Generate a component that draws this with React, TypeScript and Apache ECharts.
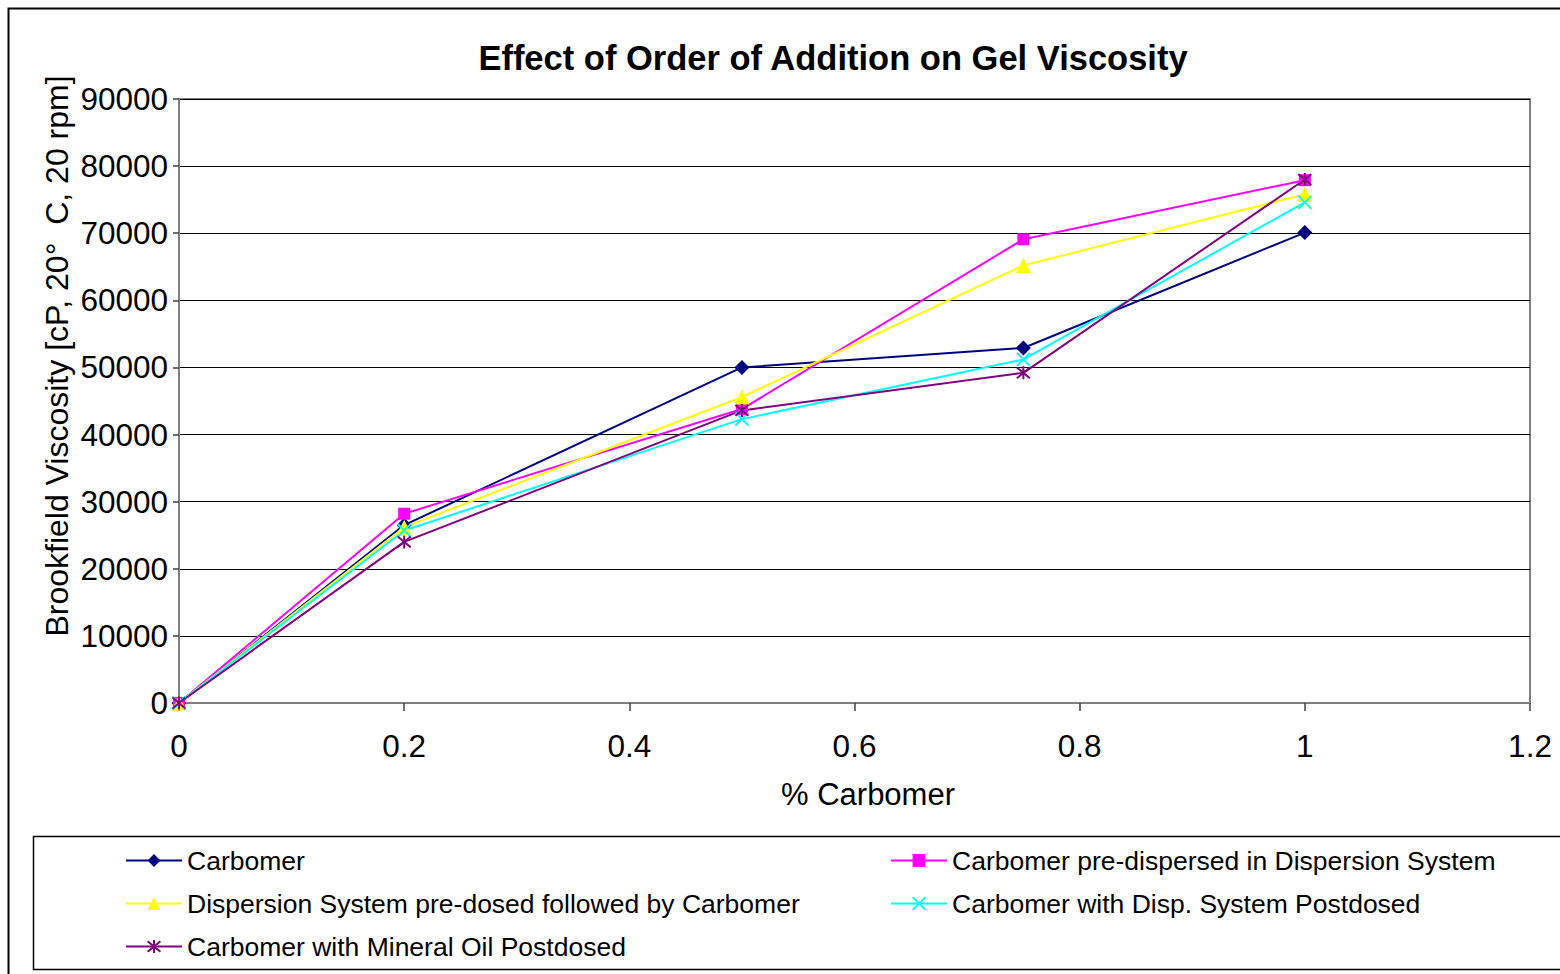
import React, { useEffect, useRef } from "react";
import * as echarts from "echarts";

const xValues = [0, 0.2, 0.5, 0.75, 1];
const carbomer = [0, 26500, 50000, 52900, 70100];
const preDispersed = [0, 28200, 43800, 69100, 77900];
const preDosed = [0, 26200, 45600, 65200, 75800];
const dispPostdosed = [0, 25700, 42300, 51200, 74600];
const mineralOil = [0, 24000, 43600, 49200, 78000];

const seriesNames = [
  "Carbomer",
  "Carbomer pre-dispersed in Dispersion System",
  "Dispersion System pre-dosed followed by Carbomer",
  "Carbomer with Disp. System Postdosed",
  "Carbomer with Mineral Oil Postdosed",
];

const FONT = "Liberation Sans, Arial, sans-serif";
const X_PATH = "path://M0,0L10,10M10,0L0,10";
const STAR_PATH = "path://M0,0L10,10M10,0L0,10M5,-1L5,11";

export default function App() {
  const ref = useRef<HTMLDivElement>(null);
  useEffect(() => {
    if (!ref.current) return;
    const chart = echarts.init(ref.current, undefined, { renderer: "svg" });
    const mk = (vals: number[]) => xValues.map((x, i) => [x, vals[i]]);
    const series: any[] = [
      { name: seriesNames[0], data: mk(carbomer), color: "#000080", symbol: "diamond", symbolSize: 15 },
      { name: seriesNames[1], data: mk(preDispersed), color: "#FF00FF", symbol: "rect", symbolSize: 12 },
      { name: seriesNames[2], data: mk(preDosed), color: "#FFFF00", symbol: "triangle", symbolSize: 15 },
      { name: seriesNames[3], data: mk(dispPostdosed), color: "#00FFFF", symbol: X_PATH, symbolSize: 13, stroke: true },
      { name: seriesNames[4], data: mk(mineralOil), color: "#800080", symbol: STAR_PATH, symbolSize: 13, stroke: true },
    ].map((s) => ({
      type: "line",
      name: s.name,
      data: s.data,
      symbol: s.symbol,
      symbolSize: s.symbolSize,
      showAllSymbol: true,
      lineStyle: { color: s.color, width: 2 },
      itemStyle: s.stroke
        ? { color: s.color, borderColor: s.color, borderWidth: 2 }
        : { color: s.color, borderColor: s.color, borderWidth: 0 },
      emphasis: { disabled: true },
    }));

    const legendCommon = {
      orient: "vertical",
      itemWidth: 56,
      itemHeight: 16,
      itemGap: 14,
      textStyle: { fontFamily: FONT, fontSize: 26.5, color: "#000", lineHeight: 29 },
      selectedMode: false,
      padding: 0,
    };

    chart.setOption({
      animation: false,
      backgroundColor: "#fff",
      title: {
        text: "Effect of Order of Addition on Gel Viscosity",
        left: 828,
        textAlign: "center",
        top: 35,
        textStyle: { fontFamily: FONT, fontSize: 34.5, fontWeight: "bold", color: "#000" },
      },
      grid: { left: 179, right: 30, top: 99, bottom: 271, show: true, borderColor: "#808080", borderWidth: 2, backgroundColor: "#fff" },
      xAxis: {
        type: "value",
        min: 0,
        max: 1.2,
        interval: 0.2,
        axisLine: { show: true, onZero: false, lineStyle: { color: "#808080", width: 2 } },
        axisTick: { show: true, inside: false, length: 8, lineStyle: { color: "#404040", width: 1.5 } },
        axisLabel: { fontFamily: FONT, fontSize: 31.5, color: "#000", margin: 27 },
        splitLine: { show: false },
      },
      yAxis: {
        type: "value",
        min: 0,
        max: 90000,
        interval: 10000,
        axisLine: { show: true, lineStyle: { color: "#808080", width: 2 } },
        axisTick: { show: true, inside: false, length: 6, lineStyle: { color: "#404040", width: 1.5 } },
        axisLabel: { fontFamily: FONT, fontSize: 31.5, color: "#000", margin: 11, formatter: (v: number) => String(v) },
        splitLine: { show: true, lineStyle: { color: "#000", width: 1.2 } },
      },
      legend: [
        {
          ...legendCommon,
          left: 125,
          top: 846,
          data: [seriesNames[0], seriesNames[2], seriesNames[4]],
        },
        {
          ...legendCommon,
          left: 890,
          top: 846,
          data: [seriesNames[1], seriesNames[3]],
        },
      ],
      graphic: [
        {
          type: "rect",
          shape: { x: 8.5, y: 8.5, width: 1600, height: 1000 },
          style: { fill: "none", stroke: "#000", lineWidth: 2 },
          z: -10,
          silent: true,
        },
        {
          type: "rect",
          shape: { x: 33.5, y: 836.5, width: 1600, height: 133 },
          style: { fill: "none", stroke: "#000", lineWidth: 1.5 },
          silent: true,
        },
        {
          type: "text",
          x: 57,
          y: 356,
          rotation: Math.PI / 2,
          style: {
            text: "Brookfield Viscosity [cP, 20°  C, 20 rpm]",
            fontFamily: FONT,
            fontSize: 32,
            fill: "#000",
            align: "center",
            verticalAlign: "middle",
          },
          silent: true,
        },
        {
          type: "text",
          x: 868,
          y: 794,
          style: {
            text: "% Carbomer",
            fontFamily: FONT,
            fontSize: 31,
            fill: "#000",
            align: "center",
            verticalAlign: "middle",
          },
          silent: true,
        },
      ],
      series,
    });
    return () => chart.dispose();
  }, []);
  return <div ref={ref} style={{ width: 1560, height: 974, position: "absolute", left: 0, top: 0 }} />;
}
